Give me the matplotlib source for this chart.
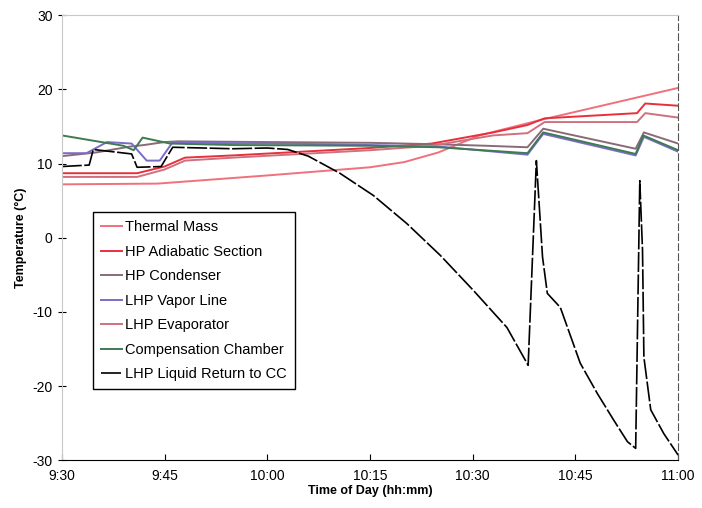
import matplotlib
matplotlib.use('Agg')
import matplotlib.pyplot as plt

plt.rcParams['font.family'] = ['Liberation Sans', 'DejaVu Sans']
plt.rcParams['axes.unicode_minus'] = False

# ── Data (time in minutes after 9:30) ───────────────────────────────────────

tick_pos    = [0, 15, 30, 45, 60, 75, 90]
tick_labels = ['9:30', '9:45', '10:00', '10:15', '10:30', '10:45', '11:00']

t_thermal = [0, 14, 30, 45, 50, 55, 61, 70, 90]
T_thermal = [7.2, 7.3, 8.4, 9.5, 10.2, 11.5, 13.8, 15.9, 20.2]

t_adiab = [0, 11, 15, 18, 25, 33, 45, 54, 63, 68, 70.5, 84, 85.2, 90]
T_adiab = [8.7, 8.7, 9.6, 10.8, 11.1, 11.5, 12.1, 12.7, 14.2, 15.2, 16.1, 16.8, 18.1, 17.8]

t_cond = [0, 5, 10, 12, 15, 17, 30, 45, 55, 62, 68, 70.3, 83.8, 85, 90]
T_cond = [11.0, 11.5, 12.3, 12.5, 12.9, 13.0, 12.9, 12.8, 12.6, 12.4, 12.2, 14.7, 12.0, 14.2, 12.7]

t_vapor = [0, 3.6, 6.6, 10.2, 12.4, 14.3, 16.2, 20, 40, 55, 68, 70.3, 83.8, 85, 90]
T_vapor = [11.4, 11.4, 12.9, 12.7, 10.4, 10.4, 12.9, 12.8, 12.6, 12.3, 11.2, 14.0, 11.1, 13.6, 11.6]

t_evap = [0, 11, 15, 18, 25, 33, 45, 54, 63, 68, 70.5, 84, 85.2, 90]
T_evap = [8.2, 8.2, 9.2, 10.4, 10.8, 11.2, 11.8, 12.4, 13.8, 14.1, 15.6, 15.6, 16.8, 16.2]

t_cc = [0, 9, 10.5, 11.8, 15.8, 25, 45, 55, 68, 70.3, 83.8, 84.9, 90]
T_cc = [13.8, 12.4, 11.8, 13.5, 12.7, 12.5, 12.4, 12.2, 11.4, 14.2, 11.3, 13.8, 11.8]

t_ret = [0, 4, 4.6, 10.2, 11, 14.5, 16.2, 25, 30, 33, 36, 40.6, 45.5, 50.4, 55.3, 60.1,
         65, 68.1, 69.3, 70.2, 70.9, 72.8, 75.7, 78.2, 80.6, 82.6, 83.8, 84.4, 84.8,
         85, 86, 87.9, 90]
T_ret = [9.6, 9.8, 11.9, 11.3, 9.5, 9.6, 12.2, 12.0, 12.1, 11.9, 11.0, 8.7, 5.7, 1.9,
         -2.4, -7.1, -12.1, -17.2, 10.4, -2.6, -7.5, -9.4, -16.9, -21.0, -24.6, -27.5,
         -28.4, 7.7, -1.7, -16.1, -23.2, -26.4, -29.3]

# ── Plot ────────────────────────────────────────────────────────────────────

fig = plt.figure(figsize=(7.02, 5.08), dpi=100)
ax = fig.add_axes([0.088, 0.094, 0.878, 0.876])

ax.plot(t_thermal, T_thermal, color='#F0707C', lw=1.4, label='Thermal Mass')
ax.plot(t_adiab,   T_adiab,   color='#E8303C', lw=1.4, label='HP Adiabatic Section')
ax.plot(t_cond,    T_cond,    color='#8A6A78', lw=1.4, label='HP Condenser')
ax.plot(t_vapor,   T_vapor,   color='#7A6CC8', lw=1.4, label='LHP Vapor Line')
ax.plot(t_evap,    T_evap,    color='#D0707E', lw=1.4, label='LHP Evaporator')
ax.plot(t_cc,      T_cc,      color='#3E7A52', lw=1.4, label='Compensation Chamber')
ax.plot(t_ret,     T_ret,     color='black', lw=1.2, dashes=(12, 1.5),
        label='LHP Liquid Return to CC')

ax.set_xlim(0, 90)
ax.set_ylim(-30, 30)
ax.set_xticks(tick_pos)
ax.set_xticklabels(tick_labels)
ax.set_yticks(range(-30, 31, 10))
ax.tick_params(axis='x', direction='in', length=4, labelsize=10, pad=6)
ax.tick_params(axis='y', direction='inout', length=6, labelsize=10)

ax.spines['left'].set_color('#C8C8C8')
ax.spines['top'].set_color('#C8C8C8')
ax.spines['bottom'].set_color('black')
ax.spines['right'].set_color('#555555')
ax.spines['right'].set_linestyle((0, (6, 3)))

ax.set_xlabel('Time of Day (hh:mm)', fontsize=9, fontweight='bold', labelpad=2)
ax.set_ylabel('Temperature (°C)', fontsize=9, fontweight='bold', labelpad=4)

leg = ax.legend(loc='upper left', bbox_to_anchor=(0.05, 0.557), fontsize=10.5,
                handlelength=1.5, handletextpad=0.2, labelspacing=0.72,
                borderpad=0.55, borderaxespad=0, fancybox=False, framealpha=1)
leg.get_frame().set_edgecolor('black')
leg.get_frame().set_linewidth(1.0)

fig.savefig('out.png', dpi=100)
